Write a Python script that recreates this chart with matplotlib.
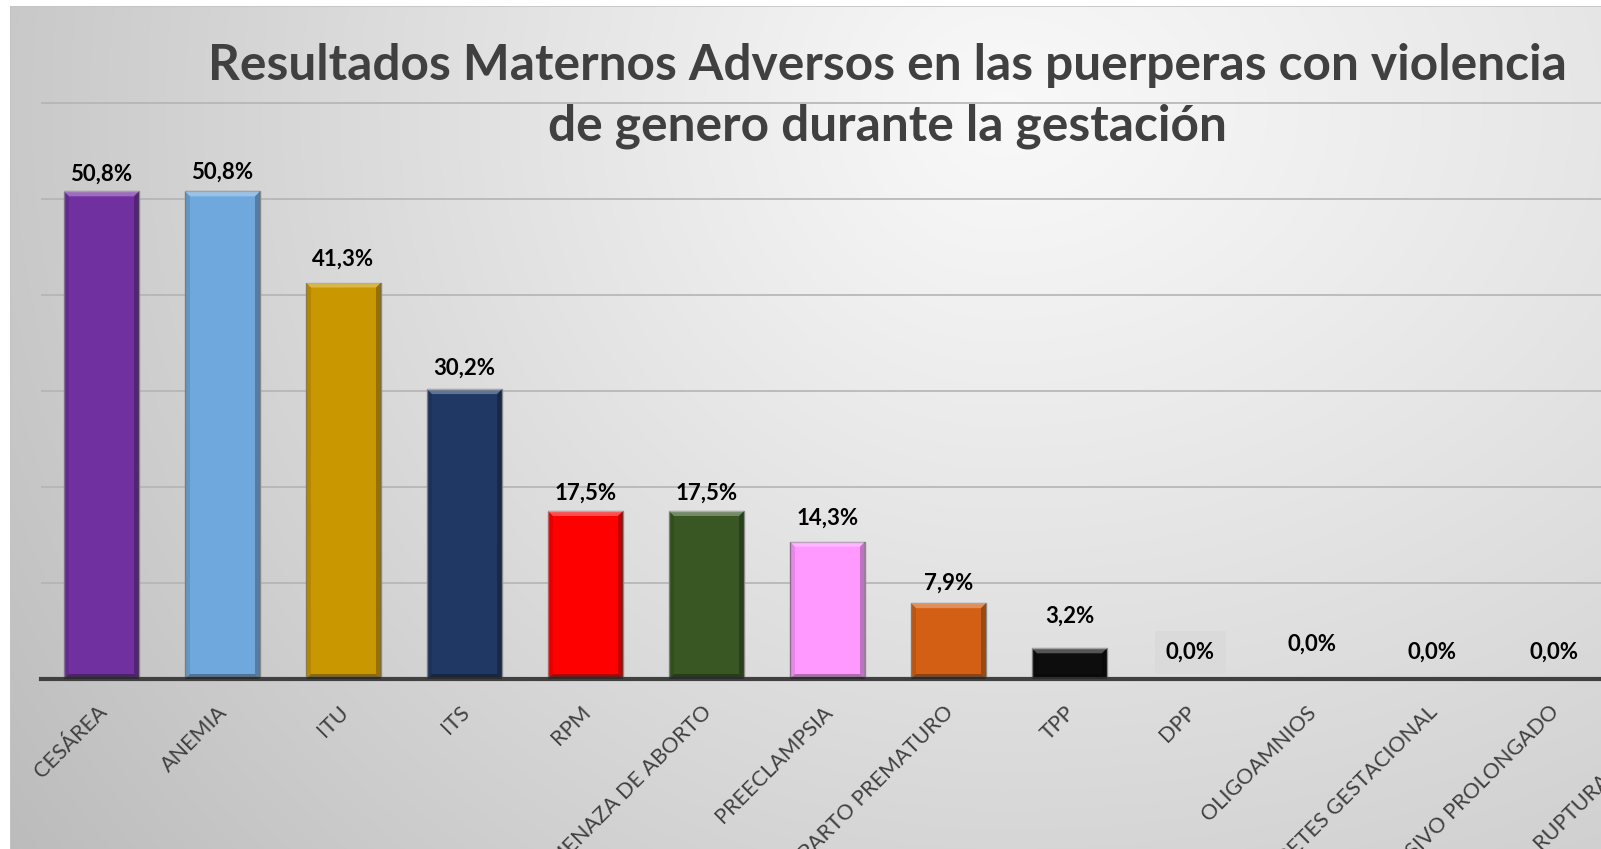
import numpy as np
import matplotlib.pyplot as plt
from matplotlib.patches import Rectangle, Polygon

# data
categories = ['CESÁREA', 'ANEMIA', 'ITU', 'ITS', 'RPM', 'AMENAZA DE ABORTO',
              'PREECLAMPSIA', 'PARTO PREMATURO', 'TPP', 'DPP', 'OLIGOAMNIOS',
              'DIABETES GESTACIONAL', 'EXPULSIVO PROLONGADO', 'RUPTURA UTERINA']
values = [50.8, 50.8, 41.3, 30.2, 17.5, 17.5, 14.3, 7.9, 3.2, 0.0, 0.0, 0.0, 0.0, 0.0]
colors = ['#7030A0', '#6FA8DC', '#C99700', '#203864', '#FF0000', '#385723',
          '#FF99FF', '#D35F14', '#0D0D0D', '#808080', '#808080', '#808080',
          '#808080', '#808080']
title = 'Resultados Maternos Adversos en las puerperas con violencia\nde genero durante la gestación'

# extra lift (px) of some data labels, as placed in the original
label_lift = [0, 2, 6, 3, 0, 0, 6, 2, 15, 9, 17, 9, 9, 9]

W, H, DPI = 1601, 849, 100
fig = plt.figure(figsize=(W / DPI, H / DPI), dpi=DPI)
fig.patch.set_facecolor('white')

# gradient background of the chart area
bg = fig.add_axes([0, 0, 1, 1], zorder=-2)
yy, xx = np.mgrid[0:H, 0:W]
dx = (xx - 1000) / np.where(xx > 1000, 1500, 1050)
dy = (yy - 110) / 1050
d = np.sqrt(dx ** 2 + dy ** 2)
g = np.clip(0.975 - 0.20 * d ** 1.1, 0, 1)
bg.imshow(np.dstack([g, g, g]), extent=[0, W, H, 0], aspect='auto', interpolation='bilinear')
bg.set_xlim(0, W)
bg.set_ylim(H, 0)
bg.axis('off')
bg.add_patch(Rectangle((9.5, 6), W + 20, H + 20, facecolor='none', edgecolor='#c4c4c4', lw=1.2))
bg.add_patch(Rectangle((0, 0), 9.5, H, facecolor='white', edgecolor='none'))
bg.add_patch(Rectangle((0, 0), W, 6, facecolor='white', edgecolor='none'))

# plot area (runs past the right edge like the original)
left, base, top = 41, 679, 7
ax = fig.add_axes([left / W, (H - base) / H, 14 * 121 / W, (base - top) / H])
ax.set_facecolor('none')
ax.set_xlim(-0.5, 13.5)
ax.set_ylim(0, 70)
ax.set_yticks([10, 20, 30, 40, 50, 60])
ax.yaxis.grid(True, color='#b4b4b4', lw=1.2)
ax.set_axisbelow(True)
ax.tick_params(left=False, labelleft=False, bottom=False, labelbottom=False)
for s in ['left', 'right', 'top']:
    ax.spines[s].set_visible(False)
ax.spines['bottom'].set_color('#404040')
ax.spines['bottom'].set_linewidth(3)

x = np.arange(len(categories))
bars = ax.bar(x, values, width=0.62, color=colors, edgecolor='#8a8a8a', lw=1.0, zorder=2)

# simple bevel on each bar
px_x = 1 / 121
px_y = 70 / 672
for b in bars:
    x0, y0 = b.get_x(), b.get_y()
    w, h = b.get_width(), b.get_height()
    if h <= 0:
        continue
    bx, by = 5 * px_x, min(5 * px_y, h / 3)
    x1, y1 = x0 + w, y0 + h
    faces = [
        ([(x0, y1), (x1, y1), (x1 - bx, y1 - by), (x0 + bx, y1 - by)], 'white', 0.30),
        ([(x1, y0), (x1, y1), (x1 - bx, y1 - by), (x1 - bx, y0 + by)], 'black', 0.25),
        ([(x0, y0), (x0, y1), (x0 + bx, y1 - by), (x0 + bx, y0 + by)], 'black', 0.10),
        ([(x0, y0), (x1, y0), (x1 - bx, y0 + by), (x0 + bx, y0 + by)], 'black', 0.30),
    ]
    for pts, c, a in faces:
        ax.add_patch(Polygon(pts, closed=True, facecolor=c, alpha=a, edgecolor='none', zorder=3))

# data labels
for i, v in enumerate(values):
    lab = f'{v:.1f}%'.replace('.', ',')
    bbox = dict(facecolor='#dadada', edgecolor='none', pad=8) if categories[i] == 'DPP' else None
    ax.annotate(lab, xy=(i, v), xytext=(0, (7 + label_lift[i]) * 0.72), textcoords='offset points',
                ha='center', va='bottom', fontsize=16, fontweight='bold', color='black',
                family='Lato', bbox=bbox, zorder=4)

# category labels
for i, c in enumerate(categories):
    ax.annotate(c, xy=(i, 0), xytext=(9 * 0.72, -23 * 0.72), textcoords='offset points',
                rotation=45, ha='right', va='top', fontsize=15.5, color='#404040', family='Lato')

fig.text(887 / W, 1 - 96 / H, title, ha='center', va='center', fontsize=35.7,
         fontweight='bold', color='#404040', family='Lato', linespacing=1.42)

fig.savefig('out.png', dpi=DPI)
